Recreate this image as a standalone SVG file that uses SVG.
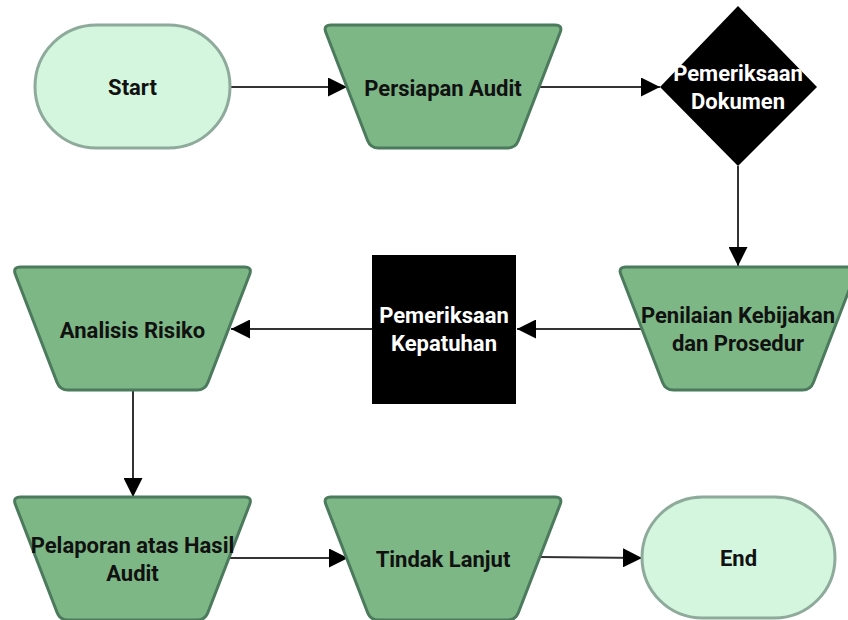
<svg xmlns="http://www.w3.org/2000/svg" xmlns:xlink="http://www.w3.org/1999/xlink" width="848" height="620" viewBox="0 0 848 620">
  <style>
    .term { fill: #d4f6de; stroke: #8eaa9a; stroke-width: 3; }
    .trap { fill: #7eb786; stroke: #4b7a5c; stroke-width: 3; }
    .blk { fill: #000000; stroke: none; }
    .lbl { font-family: Roboto, "Liberation Sans", sans-serif; font-weight: bold; font-size: 22px; text-anchor: middle; dominant-baseline: central; fill: #111111; }
    .wlbl { fill: #ffffff; }
    .edge { fill: none; stroke: #333333; stroke-width: 2; }
  </style>
  <defs>
    <path id="trapShape" d="M -112,0 L 112,0 Q 120,0 117.1,7.5 L 75.4,115.5 Q 72.5,123 64.5,123 L -64.5,123 Q -72.5,123 -75.4,115.5 L -117.1,7.5 Q -120,0 -112,0 Z"/>
    <marker id="arrow" viewBox="0 0 10 10" refX="10" refY="5" markerWidth="19" markerHeight="19" markerUnits="userSpaceOnUse" orient="auto">
      <path d="M0,0 L10,5 L0,10 Z" fill="#000000"/>
    </marker>
  </defs>
  <rect width="848" height="620" fill="#ffffff"/>

  <g id="connectors">
    <path class="edge" d="M230,87 L347,87" marker-end="url(#arrow)"/>
    <path class="edge" d="M538,87 L660,87" marker-end="url(#arrow)"/>
    <path class="edge" d="M738,166 L738,266" marker-end="url(#arrow)"/>
    <path class="edge" d="M643,329 L517,329" marker-end="url(#arrow)"/>
    <path class="edge" d="M372,329 L231,329" marker-end="url(#arrow)"/>
    <path class="edge" d="M133,390 L133,497" marker-end="url(#arrow)"/>
    <path class="edge" d="M230,558 L348,558" marker-end="url(#arrow)"/>
    <path class="edge" d="M540,557 L642,558" marker-end="url(#arrow)"/>
  </g>

  <g id="start">
    <rect class="term" x="35" y="25" width="195" height="123" rx="61.5" ry="61.5"/>
    <text class="lbl" x="132.5" y="87">Start</text>
  </g>

  <g id="persiapan-audit">
    <use xlink:href="#trapShape" href="#trapShape" class="trap" transform="translate(443,25)"/>
    <text class="lbl" x="443" y="88">Persiapan Audit</text>
  </g>

  <g id="pemeriksaan-dokumen">
    <polygon class="blk" points="738,6 817,87 738,166 660,87"/>
    <text class="lbl wlbl" x="738" y="73">Pemeriksaan</text>
    <text class="lbl wlbl" x="738" y="101">Dokumen</text>
  </g>

  <g id="penilaian-kebijakan">
    <use xlink:href="#trapShape" href="#trapShape" class="trap" transform="translate(738,267)"/>
    <text class="lbl" x="738" y="315">Penilaian Kebijakan</text>
    <text class="lbl" x="738" y="343">dan Prosedur</text>
  </g>

  <g id="pemeriksaan-kepatuhan">
    <rect class="blk" x="372" y="255" width="144" height="149"/>
    <text class="lbl wlbl" x="444" y="315">Pemeriksaan</text>
    <text class="lbl wlbl" x="444" y="343">Kepatuhan</text>
  </g>

  <g id="analisis-risiko">
    <use xlink:href="#trapShape" href="#trapShape" class="trap" transform="translate(132.5,267)"/>
    <text class="lbl" x="132.5" y="330">Analisis Risiko</text>
  </g>

  <g id="pelaporan">
    <use xlink:href="#trapShape" href="#trapShape" class="trap" transform="translate(132.5,497)"/>
    <text class="lbl" x="132.5" y="545">Pelaporan atas Hasil</text>
    <text class="lbl" x="132.5" y="573">Audit</text>
  </g>

  <g id="tindak-lanjut">
    <use xlink:href="#trapShape" href="#trapShape" class="trap" transform="translate(443,497)"/>
    <text class="lbl" x="443" y="559">Tindak Lanjut</text>
  </g>

  <g id="end">
    <rect class="term" x="642" y="497" width="193" height="121" rx="60.5" ry="60.5"/>
    <text class="lbl" x="738.5" y="558">End</text>
  </g>
</svg>
